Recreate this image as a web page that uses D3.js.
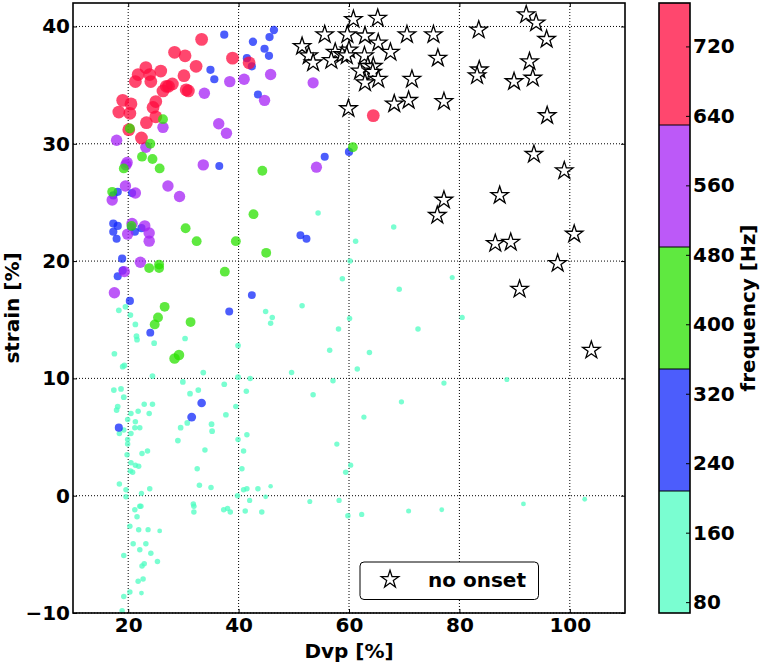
<!DOCTYPE html>
<html><head><meta charset="utf-8">
<script src="https://cdn.jsdelivr.net/npm/d3@7"></script>
<style>
body{margin:0;background:#fff}
svg{display:block}
text{font-family:"DejaVu Sans",sans-serif;font-weight:bold}
</style>
</head><body>
<svg id="chart" width="762" height="663"></svg>
<script>
// ---------- data (Dvp %, strain %, frequency Hz) ----------
const bandCyan = [
 [18.3,15.8,140],[19.5,16.1,140],[20.4,15.4,140],[21.3,14.6,140],[21.5,13.6,140],[21.6,13.3,140],[24.7,13.0,140],[30.3,13.4,140],
 [17.5,12.1,140],[19.0,11.0,140],[19.3,11.1,140],[24.4,10.2,140],[33.6,10.5,140],[39.9,12.8,140],[39.9,10.1,140],[29.9,9.7,140],
 [37.4,9.5,140],[17.4,9.0,140],[18.7,9.1,140],[19.2,8.4,140],[31.2,8.7,140],[32.7,9.0,140],[18.1,7.6,140],[17.9,7.3,140],
 [22.9,7.8,130],[24.4,7.8,130],[39.5,7.6,130],[20.5,7.0,130],[21.8,7.2,130],[23.8,7.0,130],[19.9,6.5,130],[21.3,6.3,130],
 [18.4,5.3,130],[19.2,5.6,130],[20.5,5.3,130],[21.2,5.8,130],[22.1,5.8,130],[19.9,4.8,130],[19.9,4.4,130],[19.8,3.5,130],
 [22.5,3.6,130],[23.5,3.8,130],[20.5,2.8,130],[21.3,2.6,130],[21.9,2.5,130],[20.4,2.1,130],[20.8,2.0,130],[18.4,1.0,130],
 [19.6,0.5,130],[23.9,0.6,130],[22.4,0.2,120],[19.6,-0.1,130],[21.2,-1.2,130],[22.1,-0.9,130],[22.3,-0.9,130],[21.6,-1.8,130],
 [20.3,-2.6,130],[21.9,-2.9,130],[23.6,-2.9,120],[25.7,-3.0,100],[20.9,-4.1,130],[23.2,-4.1,130],[22.1,-4.6,130],[24.1,-4.9,130],
 [19.2,-5.1,130],[22.9,-5.8,130],[22.5,-6.0,130],[25.3,-5.6,130],[21.8,-7.3,130],[22.7,-7.1,130],[20.3,-8.2,130],[22.4,-8.3,100],
 [19.2,-8.6,130],[18.9,-9.8,130],
 [30.7,6.2,140],[29.5,5.8,140],[35.1,6.1,140],[35.2,5.5,140],[29.0,4.7,140],[37.7,6.9,140],[33.9,3.9,130],[32.5,2.3,130],
 [32.9,0.9,130],[35.0,0.7,130],[39.9,4.8,130],[40.9,3.8,130],[40.6,2.3,130],[39.8,0.0,130],[31.8,-0.7,130],[31.9,-0.9,130],
 [31.9,-1.4,130],[37.3,-1.2,130],[38.0,-1.1,130],[38.5,-1.4,130],
 [42.1,10.0,130],[41.4,8.9,130],[41.5,5.2,130],[40.9,0.5,130],[41.5,0.6,130],[43.5,0.6,130],[45.8,0.8,90],[42.0,-0.4,120],
 [44.9,-0.1,100],[41.2,-1.3,130],[44.2,-1.4,130],[49.6,10.5,130],
 [54.4,24.1,130],[68.1,22.9,130],[61.2,21.7,130],[60.2,20.0,130],[58.8,18.5,130],[69.1,17.6,130],[51.5,16.2,130],[44.9,15.7,130],
 [46.1,15.2,130],[45.8,14.7,130],[60.1,15.1,130],[58.1,14.2,130],[72.5,14.2,130],[56.5,12.4,130],[63.7,12.2,130],[61.5,10.8,130],
 [57.1,9.8,130],[53.5,8.6,130],[69.5,8.0,120],[62.7,6.7,120],[57.8,4.4,120],[60.3,2.6,120],[59.4,2.0,130],[52.9,-0.5,110],
 [58.2,-0.4,120],[59.8,-1.7,130],[62.3,-1.6,120],[70.8,-1.3,110],
 [80.5,15.2,120],[77.2,9.6,120],[88.6,9.9,110],[76.8,-1.2,100],[91.6,-0.7,100],[102.7,-0.3,100],[78.7,18.6,110]
];
const bandBlue = [
 [37.4,39.3,290],[34.9,36.3,290],[35.6,35.5,290],[36.5,28.1,270],[18.1,25.9,290],[17.3,25.6,290],[20.7,25.8,290],
 [46.4,39.7,300],[45.6,39.1,290],[42.6,38.7,300],[44.7,38.1,290],[45.5,37.5,290],[41.5,37.3,290],[42.4,36.6,290],[43.5,34.2,280],
 [55.6,28.9,280],[60.0,29.3,290],[17.3,23.2,290],[18.1,23.0,290],[17.3,22.5,290],[17.9,21.9,280],[21.2,22.5,290],[22.4,22.8,290],
 [20.5,22.9,290],[18.9,20.2,290],[19.0,19.2,300],[18.1,18.7,280],[20.3,16.6,290],[38.3,15.7,270],[24.0,13.9,270],[33.3,7.9,320],
 [31.5,6.7,340],[18.3,5.8,280],[51.2,22.2,270],[52.3,21.9,270],[42.4,17.1,270]
];
const bandPurple = [
 [38.4,35.3,560],[41.0,35.5,560],[33.8,34.3,560],[36.4,31.7,560],[37.8,30.9,560],[26.3,31.4,560],[17.9,30.3,560],[23.2,29.7,560],
 [19.8,28.4,560],[19.6,28.2,560],[33.6,28.2,560],[19.5,26.4,560],[21.3,25.8,560],[27.2,26.4,560],[29.3,25.5,560],[17.1,25.2,560],
 [45.8,35.9,560],[44.7,33.7,560],[53.5,35.2,540],[54.1,28.0,540],[20.7,23.2,560],[23.0,23.0,560],[23.8,22.4,560],[19.9,22.3,560],
 [23.8,21.7,560],[22.2,19.9,560],[19.3,19.1,540],[17.5,17.3,560]
];
const bandRed = [
 [33.3,38.9,700],[28.4,37.8,700],[30.3,37.5,700],[32.3,36.6,700],[38.9,37.3,700],[23.2,36.5,700],[25.9,36.2,700],[21.8,35.9,700],
 [23.9,35.9,700],[30.1,35.8,700],[21.3,35.3,700],[24.1,35.3,700],[28.0,35.1,700],[26.9,34.9,700],[27.3,34.9,700],[26.3,34.5,700],
 [30.5,34.6,700],[30.9,34.5,700],[19.0,33.7,700],[20.5,33.4,700],[25.0,33.6,700],[24.5,33.1,700],[18.3,32.7,700],[20.3,32.6,700],
 [25.0,32.3,700],[23.3,31.8,700],[20.1,31.2,700],[22.4,30.5,700],[41.9,36.9,700],[64.4,32.4,700]
];
const bandGreen = [
 [26.3,32.1,420],[20.3,31.3,420],[24.0,30.0,420],[22.5,28.9,420],[24.4,28.7,420],[25.7,27.9,420],[19.2,27.9,420],[17.1,25.9,420],
 [60.7,29.7,420],[44.3,27.7,420],[30.4,22.8,420],[32.4,21.7,420],[39.5,21.7,420],[23.8,19.4,420],[25.6,19.7,420],[25.6,19.4,420],
 [37.5,19.1,420],[26.6,16.1,420],[25.4,15.2,420],[24.8,14.6,420],[31.3,14.8,420],[29.2,12.0,480],[28.4,11.7,480],[42.7,24.0,420],
 [45.0,20.7,420],[20.6,23.0,420]
];
const noOnsetDvp    = [60.8,65.2,55.6,59.7,62.9,70.5,51.5,65.3,67.5,52.7,53.5,57.5,56.8,58.8,60.0,59.6,62.8,63.4,64.4,62.0,64.3,65.3,62.9,71.4,68.2,70.8,59.9,75.3,76.1,77.2,83.5,83.6,83.2,92.1,93.9,95.8,92.7,93.3,89.9,95.9,93.5,99.0,87.3,77.2,76.0,100.8,86.5,89.3,97.8,90.9,103.9];
const noOnsetStrain = [40.6,40.7,39.3,39.3,39.2,39.3,38.3,38.6,37.8,37.5,36.9,37.8,37.1,37.6,38.0,37.5,37.5,36.6,36.6,36.2,36.1,35.5,35.2,35.5,33.4,33.7,33.0,39.3,37.3,33.6,39.7,36.3,35.8,41.0,40.3,38.9,37.0,35.6,35.3,32.4,29.1,27.7,25.6,25.2,23.9,22.3,21.5,21.6,19.8,17.6,12.4];

const xTicks = [20,40,60,80,100];
const yTicks = [-10,0,10,20,30,40];
const freqTicks = [80,160,240,320,400,480,560,640,720];
const freqRange = [67.5,770];
const bandColors = ["#4efec2","#1027fb","#2ae100","#a622f5","#ff0a3e"];
const legendLabel = "no onset";

// ---------- layout ----------
const svg = d3.select("#chart");
const P = {l:73, r:625, t:3, b:613};
const x = d3.scaleLinear().domain([10,110]).range([P.l,P.r]);
const y = d3.scaleLinear().domain([-10,42]).range([P.b,P.t]);
const color = d3.scaleQuantize().domain(freqRange).range(bandColors);
const rad = d3.scaleSqrt().domain([0,770]).range([0,6.7]);
const FS = 20;

svg.append("clipPath").attr("id","clip").append("rect")
  .attr("x",P.l).attr("y",P.t).attr("width",P.r-P.l).attr("height",P.b-P.t);

// grid
const grid = svg.append("g");
grid.selectAll(".gx").data(xTicks).join("line")
  .attr("x1",d=>x(d)).attr("x2",d=>x(d)).attr("y1",P.t).attr("y2",P.b);
grid.selectAll(".gy").data(yTicks).join("line")
  .attr("x1",P.l).attr("x2",P.r).attr("y1",d=>y(d)).attr("y2",d=>y(d));
grid.selectAll("line").attr("stroke","#000").attr("stroke-width",1).attr("stroke-dasharray","1,2");

// points
const pts = svg.append("g").attr("clip-path","url(#clip)");
[bandCyan,bandBlue,bandPurple,bandRed,bandGreen].forEach(band=>{
  pts.append("g").selectAll("circle").data(band).join("circle")
    .attr("cx",d=>x(d[0])).attr("cy",d=>y(d[1])).attr("r",d=>rad(d[2]))
    .attr("fill",d=>color(d[2])).attr("fill-opacity",0.75);
});

// stars
const star = d3.symbol().type(d3.symbolStar).size(95);
const stars = noOnsetDvp.map((v,i)=>[v,noOnsetStrain[i]]);
svg.append("g").attr("clip-path","url(#clip)").selectAll("path").data(stars).join("path")
  .attr("d",star).attr("transform",d=>`translate(${x(d[0])},${y(d[1])})`)
  .attr("fill","#fff").attr("stroke","#000").attr("stroke-width",1.3);

// axes
function styleAxis(g){
  g.select(".domain").remove();
  g.selectAll(".tick line").attr("stroke","#000").attr("stroke-width",1);
  g.selectAll(".tick text").attr("fill","#000").style("font-size",FS+"px").style("font-family","DejaVu Sans").style("font-weight","bold");
}
svg.append("g").attr("transform",`translate(0,${P.b})`)
  .call(d3.axisBottom(x).tickValues(xTicks).tickSizeInner(-4).tickSizeOuter(0).tickPadding(5)).call(styleAxis);
svg.append("g").attr("transform",`translate(${P.l},0)`)
  .call(d3.axisLeft(y).tickValues(yTicks).tickSizeInner(-4).tickSizeOuter(0).tickPadding(3)).call(styleAxis);
svg.append("g").attr("transform",`translate(0,${P.t})`)
  .call(d3.axisTop(x).tickValues(xTicks).tickSizeInner(-4).tickSizeOuter(0).tickFormat("")).call(styleAxis);
svg.append("g").attr("transform",`translate(${P.r},0)`)
  .call(d3.axisRight(y).tickValues(yTicks).tickSizeInner(-4).tickSizeOuter(0).tickFormat("")).call(styleAxis);

svg.append("rect").attr("x",P.l).attr("y",P.t).attr("width",P.r-P.l).attr("height",P.b-P.t)
  .attr("fill","none").attr("stroke","#000").attr("stroke-width",1.6);

svg.append("text").attr("x",(P.l+P.r)/2).attr("y",658).attr("text-anchor","middle")
  .style("font-size",FS+"px").text("Dvp [%]");
svg.append("text").attr("transform",`translate(19,${(P.t+P.b)/2}) rotate(-90)`).attr("text-anchor","middle")
  .style("font-size",FS+"px").text("strain [%]");

// legend
const lg = svg.append("g");
lg.append("rect").attr("x",360).attr("y",562).attr("width",178.5).attr("height",37.5).attr("rx",4)
  .attr("fill","#fff").attr("stroke","#000").attr("stroke-width",1);
lg.append("path").attr("d",star).attr("transform","translate(390,579.5)")
  .attr("fill","#fff").attr("stroke","#000").attr("stroke-width",1.3);
lg.append("text").attr("x",428).attr("y",587).style("font-size",FS+"px").text(legendLabel);

// colorbar
const CB = {l:659, r:690};
const cy = d3.scaleLinear().domain(freqRange).range([P.b,P.t]);
const bw = (freqRange[1]-freqRange[0])/bandColors.length;
const bands = bandColors.map((c,i)=>({c, lo:freqRange[0]+i*bw, hi:freqRange[0]+(i+1)*bw}));
svg.append("g").selectAll("rect").data(bands).join("rect")
  .attr("x",CB.l).attr("width",CB.r-CB.l).attr("y",d=>cy(d.hi)).attr("height",d=>cy(d.lo)-cy(d.hi))
  .attr("fill",d=>d.c).attr("fill-opacity",0.75);
svg.append("g").selectAll("line").data(bands.slice(1)).join("line")
  .attr("x1",CB.l).attr("x2",CB.r).attr("y1",d=>cy(d.lo)).attr("y2",d=>cy(d.lo))
  .attr("stroke","#000").attr("stroke-width",1);
svg.append("rect").attr("x",CB.l).attr("y",P.t).attr("width",CB.r-CB.l).attr("height",P.b-P.t)
  .attr("fill","none").attr("stroke","#000").attr("stroke-width",1.6);
svg.append("g").attr("transform",`translate(${CB.r},0)`)
  .call(d3.axisRight(cy).tickValues(freqTicks).tickSizeInner(-4).tickSizeOuter(0).tickPadding(3)).call(styleAxis);
svg.append("text").attr("transform",`translate(755,${(P.t+P.b)/2}) rotate(-90)`).attr("text-anchor","middle")
  .style("font-size",FS+"px").text("frequency [Hz]");
</script>
</body></html>
